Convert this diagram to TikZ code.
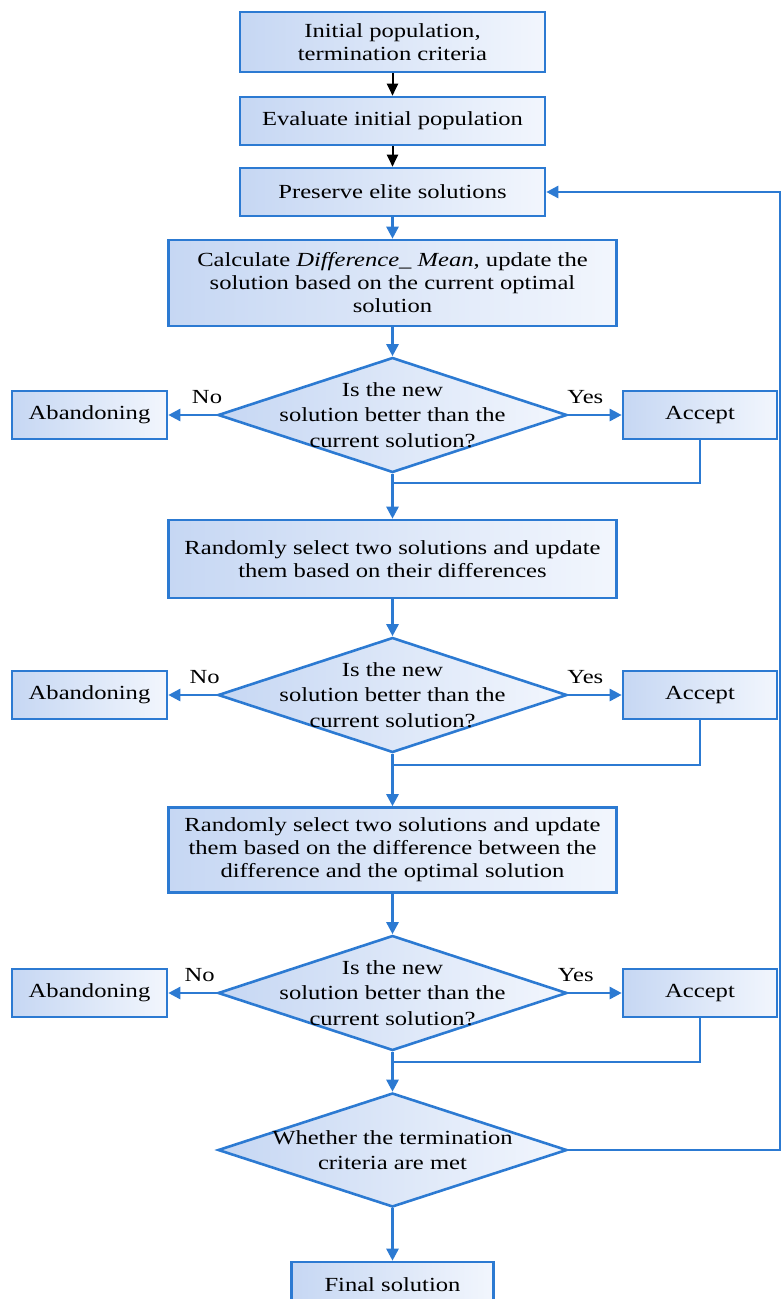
\documentclass[tikz,border=0pt]{standalone}
\usepackage{fontspec}
\setmainfont{Liberation Serif}[FakeStretch=1.23]
\usetikzlibrary{shapes.geometric,arrows.meta}
\definecolor{lineblue}{RGB}{44,122,210}
\definecolor{fillL}{RGB}{198,215,243}
\definecolor{fillR}{RGB}{242,246,253}
\newcommand{\fs}{\fontsize{20pt}{23pt}\selectfont}
\newcommand{\fd}{\fontsize{20pt}{25.5pt}\selectfont}
\tikzset{
  box/.style={rectangle, draw=lineblue, line width=2.6pt, left color=fillL, right color=fillR,
    align=center, inner sep=0pt, font=\fs},
  dec/.style={diamond, draw=lineblue, line width=2.6pt, left color=fillL, right color=fillR,
    aspect=3, inner sep=0pt, minimum width=349pt, minimum height=115pt},
  dtext/.style={align=center, inner sep=0pt, font=\fd},
  conn/.style={draw=lineblue, line width=2.6pt, -{Triangle[length=12pt,width=12pt]}},
  line/.style={draw=lineblue, line width=2.6pt},
  bconn/.style={draw=black, line width=2pt, -{Triangle[length=12pt,width=11pt]}},
  lab/.style={font=\fs, inner sep=0pt},
}
\begin{document}
\begin{tikzpicture}[x=1pt,y=-1pt]
\useasboundingbox (0,0) rectangle (782,1299);
\node[box, minimum width=305pt, minimum height=60pt] (b1) at (392.5,42) {Initial population,\\termination criteria};
\node[box, minimum width=305pt, minimum height=48pt] (b2) at (392.5,121) {Evaluate initial population};
\node[box, minimum width=305pt, minimum height=48pt] (b3) at (392.5,192) {Preserve elite solutions};
\node[box, minimum width=448pt, minimum height=86pt] (b4) at (392.5,283) {Calculate \textit{Difference\_ Mean}, update the\\solution based on the current optimal\\solution};
\node[dec] (d1) at (392.5,415) {};
\node[dtext] (t1) at (d1) {Is the new\\solution better than the\\current solution?};
\node[box, minimum width=155pt, minimum height=48pt] (ab1) at (89.5,415) {Abandoning};
\node[box, minimum width=154pt, minimum height=48pt] (ac1) at (700,415) {Accept};
\node[box, minimum width=448pt, minimum height=78pt] (b5) at (392.5,559) {Randomly select two solutions and update\\them based on their differences};
\node[dec] (d2) at (392.5,695) {};
\node[dtext] (t2) at (d2) {Is the new\\solution better than the\\current solution?};
\node[box, minimum width=155pt, minimum height=48pt] (ab2) at (89.5,695) {Abandoning};
\node[box, minimum width=154pt, minimum height=48pt] (ac2) at (700,695) {Accept};
\node[box, minimum width=448pt, minimum height=85pt] (b6) at (392.5,850) {Randomly select two solutions and update\\them based on the difference between the\\difference and the optimal solution};
\node[dec] (d3) at (392.5,993) {};
\node[dtext] (t3) at (d3) {Is the new\\solution better than the\\current solution?};
\node[box, minimum width=155pt, minimum height=48pt] (ab3) at (89.5,993) {Abandoning};
\node[box, minimum width=154pt, minimum height=48pt] (ac3) at (700,993) {Accept};
\node[dec, minimum height=114pt] (d4) at (392.5,1150) {};
\node[dtext] (t4) at (d4) {Whether the termination\\criteria are met};
\node[box, minimum width=202pt, minimum height=46pt] (fin) at (392.5,1285) {Final solution};
% junction and loop coordinates
\coordinate (j1) at (392.5,483);
\coordinate (j2) at (392.5,765);
\coordinate (j3) at (392.5,1062);
\coordinate (r1) at (780,1150);
\coordinate (r2) at (780,192);
% connectors
\draw[bconn] (b1.south) -- (b2.north);
\draw[bconn] (b2.south) -- (b3.north);
\draw[conn] (b3.south) -- (b4.north);
\draw[conn] (b4.south) -- (d1.north);
\draw[conn] (d1.west) -- node[lab, above=10pt, pos=0.2] {No} (ab1.east);
\draw[conn] (d1.east) -- node[lab, above=10pt, pos=0.32] {Yes} (ac1.west);
\draw[line] (ac1.south) |- (j1);
\draw[conn] (d1.south) -- (b5.north);
\draw[conn] (b5.south) -- (d2.north);
\draw[conn] (d2.west) -- node[lab, above=10pt, pos=0.25] {No} (ab2.east);
\draw[conn] (d2.east) -- node[lab, above=10pt, pos=0.32] {Yes} (ac2.west);
\draw[line] (ac2.south) |- (j2);
\draw[conn] (d2.south) -- (b6.north);
\draw[conn] (b6.south) -- (d3.north);
\draw[conn] (d3.west) -- node[lab, above=10pt, pos=0.35] {No} (ab3.east);
\draw[conn] (d3.east) -- node[lab, above=10pt, pos=0.14] {Yes} (ac3.west);
\draw[line] (ac3.south) |- (j3);
\draw[conn] (d3.south) -- (d4.north);
\draw[conn] (d4.south) -- (fin.north);
\draw[conn] (d4.east) -- (r1) -- (r2) -- (b3.east);
\end{tikzpicture}
\end{document}
